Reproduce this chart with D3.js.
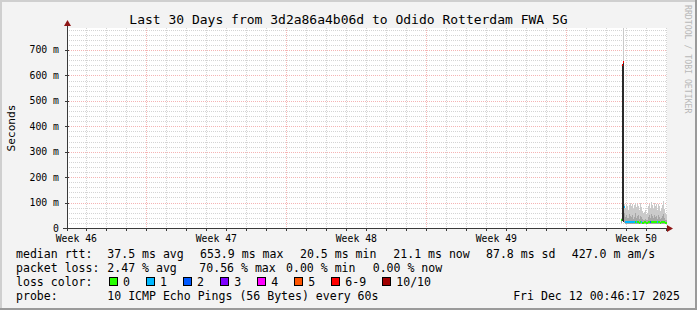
<!DOCTYPE html>
<html>
<head>
	<meta charset="utf-8">
	<title>SmokePing - Last 30 Days</title>
	<script src="https://cdnjs.cloudflare.com/ajax/libs/d3/7.8.5/d3.min.js"></script>
	<style>
		body { margin: 0; background: #f3f3f3; }
		svg text { font-family: "DejaVu Sans Mono", monospace; fill: #000; }
	</style>
</head>
<body>
	<div id="graph"></div>
	<script type="text/javascript">
		var title = "Last 30 Days from 3d2a86a4b06d to Odido Rotterdam FWA 5G";
		var rangeStart = new Date(Date.UTC(2025, 10, 12, 0, 46, 17));
		var rangeEnd = new Date(Date.UTC(2025, 11, 12, 0, 46, 17));
		var firstSample = new Date(Date.UTC(2025, 11, 9, 17, 34, 17));
		var stepMinutes = 72;
		var yMaxMs = 786.5;
		var yTicks = [0, 100, 200, 300, 400, 500, 600, 700];

		// one entry per 72 minute consolidated sample, in ms
		var medianMs = [31, 640, 653.9, 84,
			22.4, 23.1, 21.8, 24.0, 22.6, 23.5, 21.9, 22.8, 24.3, 23.0,
			22.1, 25.2, 23.4, 22.0, 21.6, 23.8, 22.7, 21.4, 20.9, 21.7,
			22.3, 21.2, 20.5, 22.9, 23.6, 22.2, 24.8, 23.3, 21.9, 24.1,
			22.5, 23.2, 21.8, 23.7, 22.6, 21.5, 22.4, 23.9, 24.6, 22.1, 21.3, 21.1];
		var lossCount = [0, 6, 7, 1,
			1, 1, 1, 1, 1, 1, 1, 1, 1, 1,
			0, 1, 0, 0, 0, 0, 1, 0, 0, 0,
			0, 0, 0, 0, 0, 2, 0, 0, 0, 0,
			0, 0, 1, 0, 0, 0, 0, 0, 0, 0, 0, 0];
		var pingMin = [18, 28, 25, 20,
			15.2, 16.0, 15.5, 16.8, 15.9, 16.3, 15.4, 15.8, 17.0, 16.1,
			15.6, 17.4, 16.2, 15.7, 15.3, 16.5, 15.9, 15.1, 14.8, 15.2,
			15.6, 14.9, 14.6, 15.8, 16.4, 15.5, 17.1, 16.2, 15.4, 16.8,
			15.7, 16.1, 15.3, 16.4, 15.8, 15.0, 15.6, 16.6, 17.2, 15.5, 15.0, 14.9];
		var pingMid = [32, 640, 654, 60,
			45, 52, 40, 38, 55, 48, 42, 50, 36, 44,
			58, 40, 46, 52, 35, 48, 42, 34, 30, 32,
			36, 30, 33, 44, 50, 40, 56, 48, 38, 52,
			44, 46, 36, 50, 42, 34, 40, 48, 54, 38, 32, 30];
		var pingMax = [36, 640, 800, 96,
			78, 95, 88, 70, 92, 100, 85, 96, 74, 90,
			98, 82, 94, 87, 72, 99, 84, 66, 58, 62,
			70, 55, 60, 88, 94, 80, 102, 90, 76, 97,
			85, 93, 70, 95, 88, 68, 80, 92, 106, 74, 60, 52];

		var lossLabels = ["0", "1", "2", "3", "4", "5", "6-9", "10/10"];
		var lossColors = ["#26ff00", "#00b8ff", "#0059ff", "#7e00ff", "#ff00ff", "#ff5500", "#ff0000", "#a10000"];
		var rttLegend = ["37.5 ms avg", "653.9 ms max", "20.5 ms min", "21.1 ms now", "87.8 ms sd", "427.0 m am/s"];
		var rttLegendX = [107.3, 200, 300, 393.3, 486, 571.7];
		var lossLegend = ["2.47 % avg", "70.56 % max", "0.00 % min", "0.00 % now"];
		var lossLegendX = [107.3, 199.3, 286, 372.7];
		var probeText = "10 ICMP Echo Pings (56 Bytes) every 60s";
		var stamp = "Fri Dec 12 00:46:17 2025";

		var width = 697, height = 310;
		var plotLeft = 67, plotRight = 667, plotTop = 28, plotBottom = 228;

		var svg = d3.select("#graph")
			.append("svg")
			.attr("width", width)
			.attr("height", height)
			.style("display", "block");

		// canvas + 3d frame
		svg.append("rect").attr("width", width).attr("height", height).attr("fill", "#f3f3f3");
		svg.append("rect").attr("x", 0).attr("y", 0).attr("width", width).attr("height", 2).attr("fill", "#cfcfcf");
		svg.append("rect").attr("x", 0).attr("y", 0).attr("width", 2).attr("height", height).attr("fill", "#cfcfcf");
		svg.append("rect").attr("x", width - 2).attr("y", 0).attr("width", 2).attr("height", height).attr("fill", "#9a9a9a");
		svg.append("rect").attr("x", 0).attr("y", height - 2).attr("width", width).attr("height", 2).attr("fill", "#9a9a9a");

		svg.append("rect")
			.attr("x", plotLeft).attr("y", plotTop)
			.attr("width", plotRight - plotLeft).attr("height", plotBottom - plotTop)
			.attr("fill", "#ffffff");

		var x = d3.scaleUtc().domain([rangeStart, rangeEnd]).range([plotLeft, plotRight]);
		var y = d3.scaleLinear().domain([0, yMaxMs]).range([plotBottom, plotTop]);

		var grid = svg.append("g").attr("shape-rendering", "crispEdges");

		// minor horizontal grid every 20 ms
		grid.selectAll(".hmin")
			.data(d3.range(20, yMaxMs, 20).filter(function(v) { return v % 100 != 0; }))
			.enter().append("line")
			.attr("x1", plotLeft).attr("x2", plotRight)
			.attr("y1", function(d) { return Math.round(y(d)) + 0.5; })
			.attr("y2", function(d) { return Math.round(y(d)) + 0.5; })
			.attr("stroke", "#d4d4d4").attr("stroke-dasharray", "1,1");

		// daily vertical grid
		var days = d3.utcDay.range(rangeStart, rangeEnd).filter(function(d) { return d.getUTCDay() != 0; });
		grid.selectAll(".vmin")
			.data(days)
			.enter().append("line")
			.attr("x1", function(d) { return Math.round(x(d)) + 0.5; })
			.attr("x2", function(d) { return Math.round(x(d)) + 0.5; })
			.attr("y1", plotTop).attr("y2", plotBottom)
			.attr("stroke", "#d4d4d4").attr("stroke-dasharray", "1,1");

		// major grid
		grid.selectAll(".hmaj")
			.data(yTicks.slice(1))
			.enter().append("line")
			.attr("x1", plotLeft).attr("x2", plotRight)
			.attr("y1", function(d) { return Math.round(y(d)) + 0.5; })
			.attr("y2", function(d) { return Math.round(y(d)) + 0.5; })
			.attr("stroke", "#f5b4b4").attr("stroke-dasharray", "1,1");

		var sundays = d3.utcSunday.range(rangeStart, rangeEnd);
		grid.selectAll(".vmaj")
			.data(sundays)
			.enter().append("line")
			.attr("x1", function(d) { return Math.round(x(d)) + 0.5; })
			.attr("x2", function(d) { return Math.round(x(d)) + 0.5; })
			.attr("y1", plotTop).attr("y2", plotBottom)
			.attr("stroke", "#f5b4b4").attr("stroke-dasharray", "1,1");

		// samples
		var samples = medianMs.map(function(m, i) {
			var t0 = d3.utcMinute.offset(firstSample, i * stepMinutes);
			var t1 = d3.utcMinute.offset(firstSample, (i + 1) * stepMinutes);
			var x0 = Math.round(x(t0)), x1 = Math.round(x(t1));
			var li = lossCount[i] >= 10 ? 7 : (lossCount[i] >= 6 ? 6 : lossCount[i]);
			return { x: x0, w: Math.max(1, x1 - x0), median: m, loss: lossCount[i], color: lossColors[li],
				min: pingMin[i], mid: pingMid[i], max: pingMax[i] };
		});

		function yc(v) { return Math.max(plotTop, Math.round(y(v))); }

		var smoke = svg.append("g").attr("shape-rendering", "crispEdges");

		smoke.selectAll(".outer")
			.data(samples)
			.enter().append("rect")
			.attr("x", function(d) { return d.x; })
			.attr("width", function(d) { return d.w; })
			.attr("y", function(d) { return yc(d.max); })
			.attr("height", function(d) { return yc(d.min) - yc(d.max); })
			.attr("fill", "#cacaca");

		smoke.selectAll(".inner")
			.data(samples)
			.enter().append("rect")
			.attr("x", function(d) { return d.x; })
			.attr("width", function(d) { return d.w; })
			.attr("y", function(d) { return yc(d.mid); })
			.attr("height", function(d) { return yc(d.min) - yc(d.mid); })
			.attr("fill", function(d) { return d.loss >= 5 ? "#2a2a2a" : "#a6a6a6"; });

		smoke.selectAll(".median")
			.data(samples)
			.enter().append("rect")
			.attr("x", function(d) { return d.x; })
			.attr("width", function(d) { return d.w; })
			.attr("y", function(d) { return Math.round(y(d.median)) - 1; })
			.attr("height", 2)
			.attr("fill", function(d) { return d.color; });

		// axes
		var axes = svg.append("g").attr("shape-rendering", "crispEdges");
		axes.append("line")
			.attr("x1", plotLeft - 4).attr("x2", plotRight + 2)
			.attr("y1", plotBottom + 0.5).attr("y2", plotBottom + 0.5)
			.attr("stroke", "#3a3a3a");
		axes.append("line")
			.attr("x1", plotLeft + 0.5).attr("x2", plotLeft + 0.5)
			.attr("y1", plotBottom + 3).attr("y2", plotTop - 4)
			.attr("stroke", "#3a3a3a");

		axes.selectAll(".xtick")
			.data(days.concat(sundays))
			.enter().append("line")
			.attr("x1", function(d) { return Math.round(x(d)) + 0.5; })
			.attr("x2", function(d) { return Math.round(x(d)) + 0.5; })
			.attr("y1", plotBottom + 1).attr("y2", plotBottom + 3)
			.attr("stroke", "#3a3a3a");

		axes.selectAll(".ytick")
			.data(yTicks)
			.enter().append("line")
			.attr("x1", plotLeft - 2).attr("x2", plotLeft + 2)
			.attr("y1", function(d) { return Math.round(y(d)) + 0.5; })
			.attr("y2", function(d) { return Math.round(y(d)) + 0.5; })
			.attr("stroke", "#3a3a3a");

		svg.append("path")
			.attr("d", "M" + plotRight + "," + (plotBottom - 3) + "L" + (plotRight + 6) + "," + (plotBottom + 0.5) + "L" + plotRight + "," + (plotBottom + 4) + "Z")
			.attr("fill", "#8f1616");
		svg.append("path")
			.attr("d", "M" + (plotLeft - 3) + "," + (plotTop - 2) + "L" + (plotLeft + 0.5) + "," + (plotTop - 8) + "L" + (plotLeft + 4) + "," + (plotTop - 2) + "Z")
			.attr("fill", "#8f1616");

		// tick labels
		svg.selectAll(".ylabel")
			.data(yTicks)
			.enter().append("text")
			.attr("x", 59)
			.attr("y", function(d) { return y(d) + 3.5; })
			.attr("text-anchor", "end")
			.attr("font-size", "9.8px")
			.text(function(d) { return d == 0 ? "0" : d + " m"; });

		var weekLabels = d3.utcSunday.range(d3.utcSunday.floor(rangeStart), rangeEnd)
			.map(function(d) { return d3.utcHour.offset(d, 84); })
			.filter(function(d) { return d >= rangeStart && d <= rangeEnd; });
		svg.selectAll(".xlabel")
			.data(weekLabels)
			.enter().append("text")
			.attr("x", function(d) { return x(d); })
			.attr("y", 241.5)
			.attr("text-anchor", "middle")
			.attr("font-size", "9.8px")
			.text(function(d) { return "Week " + d3.utcFormat("%V")(d); });

		svg.append("text")
			.attr("x", 348.5).attr("y", 23.5)
			.attr("text-anchor", "middle")
			.attr("font-size", "13px")
			.text(title);

		svg.append("text")
			.attr("transform", "translate(14.5,128) rotate(-90)")
			.attr("text-anchor", "middle")
			.attr("font-size", "11.2px")
			.text("Seconds");

		svg.append("text")
			.attr("transform", "translate(685,5) rotate(90)")
			.attr("font-size", "8.2px")
			.style("fill", "#b8b8b8")
			.text("RRDTOOL / TOBI OETIKER");

		// legend
		var fs = "11.56px";
		var legend = svg.append("g").attr("font-size", fs);
		function line(label, yy) {
			legend.append("text").attr("x", 16).attr("y", yy).text(label);
		}
		line("median rtt:", 258);
		rttLegend.forEach(function(s, i) {
			legend.append("text").attr("x", rttLegendX[i]).attr("y", 258).text(s);
		});
		line("packet loss:", 272);
		lossLegend.forEach(function(s, i) {
			legend.append("text").attr("x", lossLegendX[i]).attr("y", 272).text(s);
		});
		line("loss color:", 286);
		var bx = 108.5;
		lossLabels.forEach(function(s, i) {
			legend.append("rect")
				.attr("x", Math.round(bx) + 0.5).attr("y", 277.5)
				.attr("width", 8).attr("height", 8)
				.attr("fill", lossColors[i])
				.attr("stroke", "#000")
				.attr("shape-rendering", "crispEdges");
			var t = legend.append("text").attr("x", bx + 14.5).attr("y", 286).text(s);
			bx = bx + 14.5 + t.node().getComputedTextLength() + 15.6;
		});
		line("probe:", 300);
		legend.append("text").attr("x", 107.3).attr("y", 300).text(probeText);
		legend.append("text").attr("x", 680).attr("y", 300).attr("text-anchor", "end").text(stamp);
	</script>
</body>
</html>
